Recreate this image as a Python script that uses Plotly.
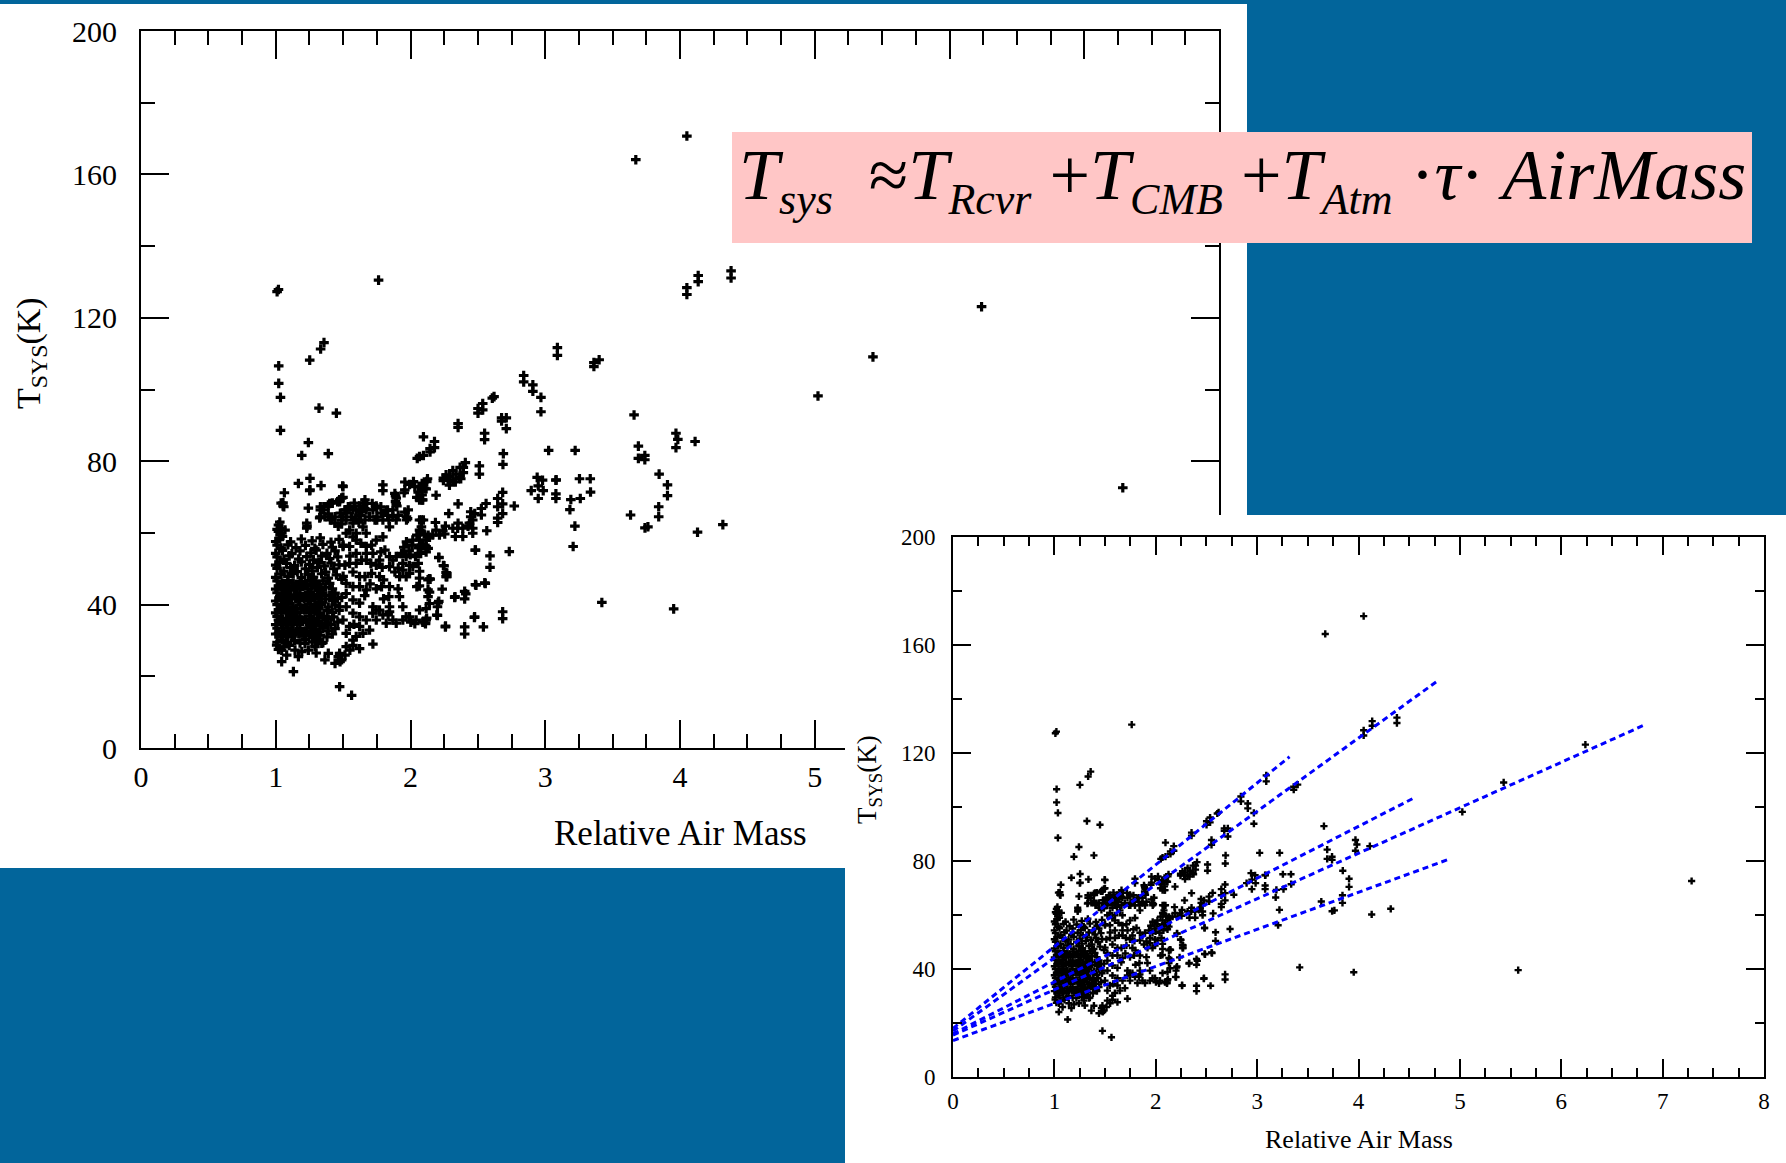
import plotly.graph_objects as go

# ---------------- data: (relative air mass, Tsys [K]) ----------------
outliers = [
    (1.01, 127.3), (1.02, 127.9), (1.763, 130.5), (1.358, 113.1), (1.333, 111.3), (1.252, 108.2),
    (1.022, 106.6), (1.022, 101.7), (1.035, 97.8), (1.321, 94.8), (1.45, 93.4), (1.035, 88.6),
    (1.242, 85.2), (1.193, 81.6), (1.39, 82.1),
    (3.09, 111.7), (3.09, 109.5), (3.361, 107.5), (3.361, 106.4), (3.40, 108.3),
    (3.672, 164.1), (4.051, 170.7), (4.051, 128.4), (4.051, 126.5), (4.135, 131.8), (4.135, 130.1),
    (4.379, 133.1), (4.379, 131.1), (6.238, 123.1), (5.432, 109.1), (5.024, 98.2),
    (3.659, 92.9), (3.691, 84.2), (3.691, 80.8), (3.739, 81.6), (3.739, 80.4), (3.97, 87.8),
    (3.984, 86.1), (3.97, 83.8), (4.112, 85.5), (3.845, 76.4), (3.907, 73.4), (3.907, 70.4),
    (3.842, 67.3), (3.842, 64.5), (3.762, 61.7), (3.74, 61.4), (3.633, 65.0), (4.318, 62.3),
    (4.13, 60.2), (7.286, 72.6), (3.42, 40.6), (3.953, 38.8), (5.575, 39.6),
]

upper_branch = [
    (2.05, 80.8), (2.096, 86.8), (2.096, 81.6), (2.145, 82.6), (2.145, 83.5), (2.178, 85.5),
    (2.178, 83.8), (2.067, 81.3), (2.353, 90.5), (2.353, 89.4), (2.501, 94.7), (2.501, 93.4),
    (2.536, 96.1), (2.536, 94.3), (2.607, 97.6), (2.62, 98.0), (2.55, 87.8), (2.55, 86.0),
    (2.676, 92.1), (2.676, 91.2), (2.711, 92.1), (2.711, 89.1), (2.689, 82.1), (2.686, 79.1),
    (2.84, 103.9), (2.84, 102.1), (2.908, 101.3), (2.908, 99.5), (2.968, 97.8), (2.968, 93.8),
    (3.025, 83.0), (3.222, 83.0), (2.511, 78.7), (2.511, 76.4),
    (2.407, 79.6), (2.392, 78.3), (2.368, 78.3), (2.392, 76.8), (2.363, 75.5), (2.338, 76.4),
    (2.314, 77.4), (2.289, 75.7), (2.264, 76.2), (2.244, 75.3), (2.244, 74.6), (2.279, 74.7),
    (2.314, 74.7), (2.333, 74.2), (2.289, 73.3), (2.373, 75.1), (2.126, 75.1),
    (2.086, 73.8), (2.086, 72.3), (2.116, 72.3), (2.086, 70.6), (2.086, 69.2), (2.19, 70.5),
    (2.94, 75.5), (2.98, 74.7), (3.079, 74.7), (2.896, 71.8), (2.948, 73.1), (2.985, 71.8),
    (2.948, 69.6), (3.079, 70.9), (3.079, 69.6), (3.081, 74.8), (3.254, 75.1), (3.334, 75.1),
    (3.19, 69.3), (3.26, 69.6), (3.336, 71.4), (3.183, 66.5), (3.22, 61.9), (3.207, 56.2),
    (2.684, 71.3), (1.958, 74.2), (1.958, 72.0), (1.993, 73.5), (2.022, 74.3), (2.032, 72.9),
    (2.067, 72.9), (2.057, 71.4), (2.106, 72.4), (2.121, 74.3), (2.067, 69.2), (2.047, 69.9),
    (2.091, 69.2), (1.953, 71.2), (1.795, 73.4), (1.795, 71.8), (1.499, 72.9), (1.499, 69.9),
    (1.474, 68.7), (1.889, 70.3), (1.889, 68.7), (1.899, 67.5), (1.869, 66.4), (1.884, 71.0),
    (1.894, 69.7), (1.894, 68.2),
]

cloud_upper = [
    (1.523, 66.4), (1.548, 67.3), (1.583, 68.3), (1.597, 66.4), (1.622, 67.5), (1.647, 68.3),
    (1.662, 69.2), (1.672, 66.4), (1.632, 64.9), (1.563, 64.5), (1.523, 63.6), (1.489, 62.5),
    (1.573, 62.7), (1.617, 63.0), (1.662, 63.6), (1.696, 64.5), (1.721, 66.4), (1.746, 67.5),
    (1.78, 67.3), (1.785, 65.5), (1.736, 63.6), (1.795, 63.6), (1.82, 66.2), (1.869, 64.5),
    (1.844, 61.7), (1.894, 63.6), (1.909, 64.9), (1.958, 65.8), (1.983, 66.4), (1.978, 64.0),
    (2.081, 63.6), (2.081, 61.7), (2.081, 60.3),
    (1.676, 68.2), (1.661, 66.8), (1.637, 65.9), (1.617, 65.0), (1.597, 63.8), (1.573, 66.4),
    (1.538, 67.3), (1.523, 65.5), (1.498, 64.5), (1.489, 63.6), (1.464, 61.9), (1.439, 62.7),
    (1.415, 64.1), (1.39, 65.3), (1.355, 66.4), (1.331, 67.3), (1.326, 64.2), (1.40, 68.2),
    (1.474, 69.2), (1.548, 60.8), (1.597, 59.9), (1.647, 61.7), (1.671, 59.9), (1.716, 68.2),
    (1.75, 67.0), (1.75, 64.5), (1.75, 63.6), (1.83, 66.4), (1.83, 64.9), (1.84, 63.6),
    (1.97, 64.5), (1.97, 63.6),
    (1.254, 75.2), (1.168, 73.8), (1.254, 72.0), (1.336, 73.2), (1.064, 71.2), (1.04, 68.3),
    (1.06, 67.3), (1.242, 66.9), (1.496, 73.1), (1.489, 69.7), (1.459, 68.7), (1.42, 68.3),
    (1.39, 67.8), (1.356, 67.3), (1.331, 66.4), (1.331, 64.5), (1.365, 64.5), (1.405, 63.6),
    (1.44, 64.5), (1.479, 65.5), (1.514, 66.4), (1.548, 67.3), (1.23, 62.7), (1.23, 61.3),
    (1.252, 71.8), (1.232, 61.9), (1.054, 68.4), (1.054, 67.5),
    (1.02, 62.2), (1.044, 61.3), (1.02, 60.4), (1.069, 60.8), (1.032, 59.4), (1.01, 61.0),
    (1.03, 63.0), (1.05, 59.0),
]

core_dense = [
    (1.01, 29.5), (1.05, 30.2), (1.09, 29.4), (1.14, 30.0), (1.18, 29.3), (1.22, 30.3), (1.27, 29.6), (1.31, 30.1), (1.35, 29.4),
    (1.00, 31.8), (1.04, 31.0), (1.08, 31.6), (1.12, 31.1), (1.17, 31.9), (1.21, 31.2), (1.25, 31.7), (1.29, 30.9), (1.33, 31.5), (1.38, 31.0), (1.42, 31.8),
    (1.01, 33.4), (1.05, 32.7), (1.09, 33.5), (1.13, 32.8), (1.18, 33.3), (1.22, 32.6), (1.26, 33.6), (1.30, 32.9), (1.35, 33.4), (1.39, 32.7), (1.44, 33.3),
    (1.00, 34.4), (1.04, 35.1), (1.08, 34.3), (1.12, 35.0), (1.16, 34.5), (1.20, 35.2), (1.25, 34.4), (1.29, 35.0), (1.33, 34.2), (1.37, 34.9), (1.41, 34.5), (1.46, 35.1),
    (1.01, 36.7), (1.05, 36.0), (1.10, 36.8), (1.14, 36.1), (1.18, 36.6), (1.22, 35.9), (1.26, 36.8), (1.31, 36.2), (1.35, 36.7), (1.39, 36.0), (1.43, 36.6),
    (1.00, 37.7), (1.04, 38.4), (1.08, 37.6), (1.12, 38.3), (1.16, 37.8), (1.21, 38.5), (1.25, 37.7), (1.29, 38.2), (1.33, 37.5), (1.38, 38.3), (1.42, 37.8), (1.47, 38.4),
    (1.01, 40.0), (1.05, 39.3), (1.09, 40.1), (1.13, 39.4), (1.18, 39.9), (1.22, 39.2), (1.26, 40.1), (1.30, 39.5), (1.34, 40.0), (1.39, 39.3), (1.44, 39.9),
    (1.00, 41.0), (1.04, 41.7), (1.08, 40.9), (1.12, 41.6), (1.17, 41.1), (1.21, 41.8), (1.25, 41.0), (1.29, 41.5), (1.33, 40.8), (1.37, 41.6), (1.42, 41.1), (1.46, 41.7),
    (1.01, 43.3), (1.05, 42.6), (1.09, 43.4), (1.14, 42.7), (1.18, 43.2), (1.22, 42.5), (1.26, 43.4), (1.31, 42.8), (1.35, 43.3), (1.40, 42.6), (1.44, 43.2),
    (1.00, 44.3), (1.04, 45.0), (1.08, 44.2), (1.12, 44.9), (1.16, 44.4), (1.20, 45.1), (1.24, 44.3), (1.29, 44.8), (1.33, 44.1), (1.37, 44.9), (1.42, 44.4),
    (1.01, 46.6), (1.05, 45.9), (1.09, 46.7), (1.13, 46.0), (1.18, 46.5), (1.22, 45.8), (1.26, 46.7), (1.30, 46.1), (1.35, 46.6), (1.40, 45.9),
    (1.02, 32.0), (1.06, 32.5), (1.10, 31.9), (1.15, 32.4), (1.19, 32.1), (1.23, 32.6), (1.27, 31.8), (1.31, 32.3),
    (1.02, 35.7), (1.06, 35.3), (1.11, 35.8), (1.15, 35.2), (1.19, 35.6), (1.24, 35.1), (1.28, 35.7), (1.32, 35.4),
    (1.02, 38.6), (1.07, 39.1), (1.11, 38.5), (1.15, 39.0), (1.19, 38.7), (1.23, 39.2), (1.28, 38.6), (1.32, 39.0),
    (1.03, 42.3), (1.07, 41.9), (1.11, 42.4), (1.15, 41.8), (1.20, 42.2), (1.24, 41.7), (1.28, 42.3), (1.32, 42.0),
    (1.02, 45.2), (1.06, 45.7), (1.10, 45.1), (1.15, 45.6), (1.19, 45.3), (1.23, 45.8), (1.27, 45.2), (1.31, 45.6),
]

core_upper = [
    (1.00, 47.6), (1.04, 48.5), (1.09, 47.8), (1.13, 48.7), (1.19, 47.5), (1.24, 48.4), (1.28, 47.7), (1.34, 48.6), (1.39, 47.4), (1.45, 48.3), (1.50, 47.9),
    (1.01, 50.1), (1.06, 49.3), (1.11, 50.3), (1.16, 49.2), (1.22, 50.0), (1.27, 49.4), (1.31, 50.4), (1.37, 49.1), (1.43, 50.0),
    (1.00, 51.0), (1.03, 51.8), (1.08, 51.5), (1.14, 50.9), (1.19, 51.9), (1.25, 51.2), (1.32, 51.7), (1.36, 50.8), (1.41, 51.6), (1.47, 51.1),
    (1.01, 53.3), (1.06, 52.6), (1.10, 53.6), (1.17, 52.7), (1.23, 53.4), (1.28, 52.5), (1.34, 53.5), (1.40, 52.8), (1.46, 53.3),
    (1.00, 54.3), (1.05, 55.1), (1.12, 54.2), (1.18, 55.0), (1.26, 54.4), (1.30, 55.2), (1.38, 54.3), (1.44, 55.0),
    (1.01, 56.6), (1.04, 55.8), (1.09, 56.7), (1.15, 55.9), (1.22, 56.5), (1.29, 55.7), (1.35, 56.8), (1.42, 56.0), (1.50, 56.6),
    (1.00, 57.6), (1.03, 58.4), (1.11, 57.5), (1.19, 58.3), (1.27, 57.8), (1.33, 58.6), (1.41, 57.4), (1.47, 58.2),
]

mid_cloud = [
    (1.795, 58.9), (1.746, 58.0), (1.711, 56.6), (1.672, 56.2), (1.632, 57.1), (1.597, 58.0),
    (1.573, 58.9), (1.523, 59.9), (1.548, 56.2), (1.499, 56.2), (1.597, 54.3), (1.672, 54.3),
    (1.721, 54.3), (1.78, 54.7), (1.81, 55.2), (1.77, 52.4), (1.844, 53.4), (1.869, 52.4),
    (1.894, 53.4), (1.933, 54.3), (1.968, 53.4), (1.943, 51.5), (1.909, 50.2), (1.884, 49.1),
    (1.919, 47.8), (1.968, 47.8), (1.993, 48.7), (2.017, 50.6), (2.057, 51.5), (1.844, 50.6),
    (1.79, 50.4), (1.746, 51.0), (1.706, 51.5), (1.672, 52.4), (1.637, 52.4), (1.597, 51.5),
    (1.548, 51.5), (1.513, 51.0), (1.573, 49.1), (1.622, 47.8), (1.662, 47.8), (1.711, 48.7),
    (1.77, 47.8), (1.80, 46.9), (1.844, 45.0), (1.785, 45.0), (1.746, 44.4), (1.672, 44.1),
    (1.622, 45.0), (1.573, 45.0), (1.523, 45.9),
    (1.523, 43.1), (1.573, 41.3), (1.622, 40.4), (1.523, 39.4), (1.474, 39.4), (1.573, 37.6),
    (1.622, 36.6), (1.672, 35.7), (1.622, 33.9), (1.548, 33.9), (1.499, 35.7), (1.696, 32.9),
    (1.647, 32.0), (1.597, 31.1), (1.523, 32.0), (1.573, 30.1), (1.721, 39.4), (1.77, 38.5),
    (1.795, 37.1), (1.844, 38.0), (1.869, 35.7), (1.894, 34.8), (1.943, 35.7), (1.993, 36.6),
    (2.042, 35.7), (2.091, 35.1), (2.116, 35.7), (1.82, 34.8), (1.746, 35.7), (1.523, 28.3),
    (1.573, 28.6), (1.622, 27.7), (1.721, 29.0),
    (2.047, 59.4), (2.017, 58.0), (2.012, 56.6), (2.057, 55.8), (2.091, 56.9), (2.116, 58.0),
    (2.131, 59.3), (2.116, 54.7), (2.076, 54.3), (2.037, 53.4), (1.998, 53.9), (1.95, 56.0),
    (1.97, 57.5), (1.99, 55.0),
    (1.834, 37.2), (1.844, 39.4), (1.839, 42.2), (1.80, 41.6), (1.745, 38.5), (1.72, 37.6),
    (1.908, 44.4), (1.918, 42.2), (1.943, 49.6), (1.992, 50.9), (2.047, 45.0), (2.066, 45.2),
    (1.968, 36.6), (2.002, 35.1), (2.032, 34.7), (2.12, 36.2), (2.111, 34.7), (1.943, 39.4),
    (1.49, 42.0), (1.49, 47.0), (1.55, 53.5), (1.66, 42.5), (1.70, 45.8), (1.58, 34.5),
]

right_cloud = [
    (2.561, 68.2), (2.526, 66.8), (2.526, 65.0), (2.477, 65.4), (2.447, 65.9), (2.447, 64.5),
    (2.462, 63.6), (2.437, 62.7), (2.462, 61.3), (2.462, 59.9), (2.427, 61.9),
    (2.353, 68.1), (2.284, 65.4), (2.353, 62.7), (2.35, 61.3), (2.314, 61.3), (2.388, 61.3),
    (2.333, 59.0), (2.388, 59.0), (2.259, 61.9), (2.185, 62.9), (2.19, 60.8), (2.24, 60.6),
    (2.254, 59.7), (2.215, 59.4), (2.165, 59.4), (2.141, 58.8), (2.101, 59.7), (2.091, 56.6),
    (2.116, 56.2), (2.131, 55.7), (2.067, 56.2), (2.067, 58.0), (2.067, 60.8), (2.067, 63.6),
    (2.096, 63.6),
    (2.566, 60.6), (2.482, 55.2), (2.59, 53.6), (2.733, 54.8), (2.59, 50.4),
    (2.21, 53.1), (2.244, 50.9), (2.264, 48.9), (2.264, 47.8), (2.146, 47.1), (2.235, 44.3),
    (2.141, 43.5), (2.067, 49.3), (2.067, 47.4),
    (2.482, 45.6), (2.551, 46.1), (2.402, 43.7), (2.402, 41.6), (2.328, 42.0), (2.21, 40.9),
    (2.141, 40.3), (2.116, 38.9), (2.067, 38.5), (2.111, 34.9), (2.195, 37.1), (2.259, 33.8),
    (2.402, 33.8), (2.402, 31.8), (2.474, 36.4), (2.541, 33.8), (2.684, 38.0), (2.684, 36.1),
    (2.77, 67.5), (2.647, 69.6), (2.647, 67.3), (2.647, 64.1), (2.647, 62.9), (2.684, 65.4),
    (2.684, 68.1),
    (2.14, 47.2), (2.21, 53.2), (2.249, 50.8), (2.27, 48.7), (2.27, 47.8), (2.33, 42.2),
    (2.41, 43.0), (2.476, 36.6), (2.26, 34.0), (2.481, 55.2), (2.555, 45.9), (2.486, 45.4),
    (2.2, 39.4), (2.2, 37.0), (2.205, 40.5), (2.13, 46.9), (2.13, 44.1), (2.13, 42.2),
]

low_tail = [
    (1.007, 28.7), (1.044, 27.3), (1.081, 25.9), (1.044, 24.1), (1.143, 27.3), (1.168, 25.5),
    (1.193, 26.9), (1.217, 29.2), (1.242, 27.3), (1.291, 28.3), (1.341, 29.2), (1.39, 26.4),
    (1.365, 24.6), (1.464, 25.5), (1.489, 24.6), (1.514, 25.9), (1.55, 27.3), (1.44, 23.6),
    (1.477, 24.1), (1.131, 21.3), (1.474, 26.4), (1.474, 24.5), (1.474, 17.1), (1.563, 14.7),
    (1.02, 27.5), (1.06, 28.2), (1.10, 28.6), (1.30, 26.5),
]

# dashed fit lines (chart 2): start and end points
fit_x_start = [0.0, 0.0, 0.0, 0.0, 0.0]
fit_y_start = [18.0, 17.0, 16.0, 15.5, 13.5]
fit_x_end = [3.32, 4.78, 4.55, 6.84, 4.91]
fit_y_end = [118.6, 146.7, 103.4, 130.7, 80.9]

x_tick_vals = [0, 1, 2, 3, 4, 5, 6, 7, 8]
x_tick_text = ["0", "1", "2", "3", "4", "5", "6", "7", "8"]
y_tick_vals = [0, 40, 80, 120, 160, 200]
y_tick_text = ["0", "40", "80", "120", "160", "200"]

# ---------------- figure ----------------
W, H = 1786, 1163
BLUE = "#02659B"
PINK = "#FFC6C6"
SERIF = "Liberation Serif"

all_pts = outliers + upper_branch + cloud_upper + core_dense + core_upper + mid_cloud + right_cloud + low_tail
am = [p[0] for p in all_pts]
ts = [p[1] for p in all_pts]


def px(v):
    return v / W


def py(v):
    return 1 - v / H


fig = go.Figure()

# chart 1 (upper-left)
fig.add_trace(go.Scatter(x=am, y=ts, mode="markers", xaxis="x", yaxis="y",
                         marker=dict(symbol="cross", size=8, color="black", line=dict(width=0)),
                         hoverinfo="skip"))
# panel subplot (used only to cover chart 1 with the white card of chart 2)
fig.add_trace(go.Scatter(x=[], y=[], xaxis="x2", yaxis="y2", hoverinfo="skip"))
# chart 2 (lower-right)
fig.add_trace(go.Scatter(x=am, y=ts, mode="markers", xaxis="x3", yaxis="y3",
                         marker=dict(symbol="cross", size=6, color="black", line=dict(width=0)),
                         hoverinfo="skip"))
for i in range(len(fit_x_end)):
    fig.add_trace(go.Scatter(x=[fit_x_start[i], fit_x_end[i]], y=[fit_y_start[i], fit_y_end[i]],
                             mode="lines", xaxis="x3", yaxis="y3",
                             line=dict(color="#0000FF", width=3, dash="6px,4px"),
                             hoverinfo="skip"))


def axis(tvals, ttext, rng, dom, anchor, fsize, major, minor, mdt, standoff):
    return dict(domain=dom, anchor=anchor, range=rng, showline=True, linecolor="black", linewidth=2,
                mirror="ticks", ticks="inside", ticklen=major, tickwidth=2, tickcolor="black",
                tickmode="array", tickvals=tvals, ticktext=ttext, automargin=False,
                minor=dict(ticks="inside", ticklen=minor, tickwidth=1.5, tickcolor="black",
                           dtick=mdt, tick0=0, showgrid=False),
                showgrid=False, zeroline=False, ticklabelstandoff=standoff,
                tickfont=dict(family=SERIF, size=fsize, color="black"), fixedrange=True)


fig.update_layout(
    width=W, height=H, autosize=False,
    margin=dict(l=0, r=0, t=0, b=0, pad=0, autoexpand=False),
    paper_bgcolor=BLUE, plot_bgcolor="white", showlegend=False,
    xaxis=axis(x_tick_vals, x_tick_text, [0, 8], [px(141), px(1219)], "y", 30, 28, 14, 0.25, 1),
    yaxis=axis(y_tick_vals, y_tick_text, [0, 200], [py(748), py(31)], "x", 30, 28, 14, 20, 16),
    xaxis2=dict(domain=[px(845), 1], anchor="y2", range=[0, 1], visible=False, fixedrange=True),
    yaxis2=dict(domain=[0, py(515)], anchor="x2", range=[0, 1], visible=False, fixedrange=True),
    xaxis3=axis(x_tick_vals, x_tick_text, [0, 8], [px(953), px(1764)], "y3", 23, 18, 9, 0.25, 2),
    yaxis3=axis(y_tick_vals, y_tick_text, [0, 200], [py(1077), py(537)], "x3", 23, 18, 9, 20, 11),
)

fig.update_layout(shapes=[
    # white card of chart 1
    dict(type="rect", xref="paper", yref="paper", x0=0, x1=px(1247), y0=py(868), y1=py(4),
         fillcolor="white", line=dict(width=0), layer="below"),
    # white card of chart 2 (drawn in its own subplot, so it covers chart 1)
    dict(type="rect", xref="x2", yref="y2", x0=0, x1=1, y0=0, y1=1,
         fillcolor="white", line=dict(width=0), layer="below"),
    # pink formula box
    dict(type="rect", xref="paper", yref="paper", x0=px(732), x1=px(1752), y0=py(243), y1=py(132),
         fillcolor=PINK, line=dict(width=0), layer="above"),
])

SUB = '<sub><span style="font-size:44px">{}</span></sub>'
NB = "\u00a0"
formula = ("<i>T</i>" + SUB.format("<i>sys</i>") + NB + NB + "≈<i>T</i>" + SUB.format("<i>Rcvr</i>")
           + NB + "+<i>T</i>" + SUB.format("<i>CMB</i>") + NB + "+<i>T</i>" + SUB.format("<i>Atm</i>")
           + NB + "·<i>τ</i>·" + NB + "<i>AirMass</i>")

fig.update_layout(annotations=[
    dict(text=formula, xref="paper", yref="paper", x=px(1242), y=py(180), xanchor="center",
         yanchor="middle", showarrow=False, font=dict(family=SERIF, size=72, color="black")),
    dict(text="Relative Air Mass", xref="paper", yref="paper", x=px(680), y=py(833),
         xanchor="center", yanchor="middle", showarrow=False,
         font=dict(family=SERIF, size=35, color="black")),
    dict(text="T<sub>SYS</sub>(K)", xref="paper", yref="paper", x=px(31), y=py(353),
         xanchor="center", yanchor="middle", textangle=-90, showarrow=False,
         font=dict(family=SERIF, size=34, color="black")),
    dict(text="Relative Air Mass", xref="paper", yref="paper", x=px(1359), y=py(1139),
         xanchor="center", yanchor="middle", showarrow=False,
         font=dict(family=SERIF, size=26, color="black")),
    dict(text="T<sub>SYS</sub>(K)", xref="paper", yref="paper", x=px(869), y=py(780),
         xanchor="center", yanchor="middle", textangle=-90, showarrow=False,
         font=dict(family=SERIF, size=27, color="black")),
])

fig.write_html("out.html")
